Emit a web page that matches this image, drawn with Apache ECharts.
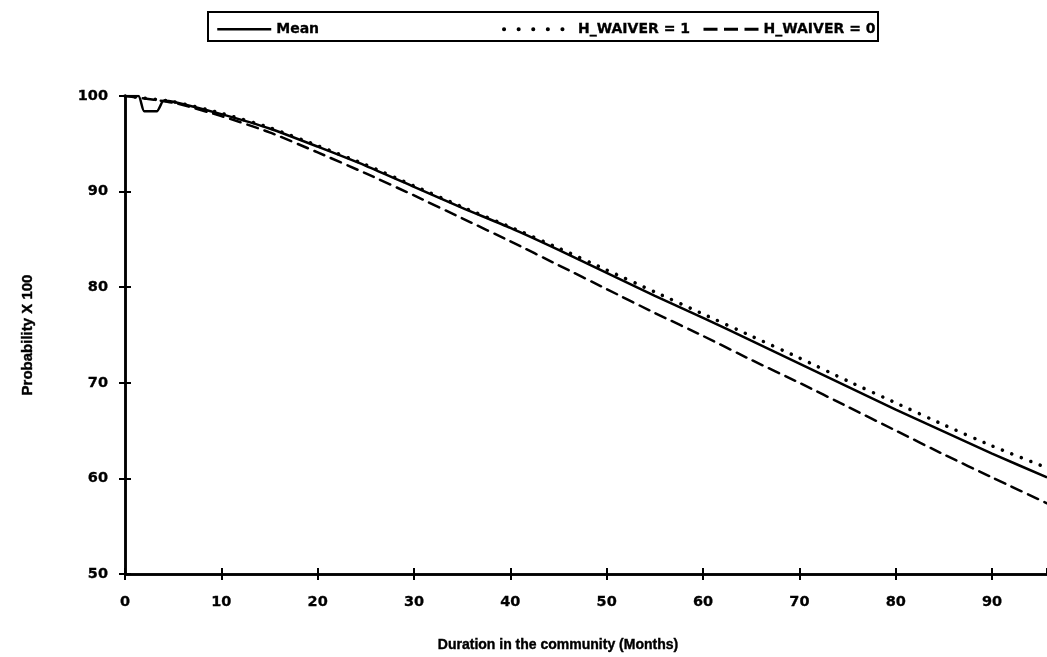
<!DOCTYPE html>
<html>
<head>
<meta charset="utf-8">
<script src="https://cdn.jsdelivr.net/npm/echarts@6/dist/echarts.min.js"></script>
<style>
html,body{margin:0;padding:0;background:#fff;}
#c{width:1047px;height:657px;}
</style>
</head>
<body>
<div id="c"></div>
<script>
// Data
var meanMonths = [0, 1.4, 2, 3.3, 4, 5, 10, 15, 20, 25, 30, 35, 40, 45, 50, 55, 60, 65, 70, 75, 80, 85, 90, 95.7];
var meanVals   = [100, 100, 98.4, 98.4, 99.5, 99.4, 98.1, 96.6, 94.7, 92.7, 90.5, 88.3, 86.2, 83.9, 81.5, 79.1, 76.8, 74.4, 72.0, 69.6, 67.2, 64.9, 62.6, 60.1];
var months     = [0, 5, 10, 15, 20, 25, 30, 35, 40, 45, 50, 55, 60, 65, 70, 75, 80, 85, 90, 95.7];
var waiver1Vals = [100, 99.4, 98.2, 96.7, 94.8, 92.8, 90.6, 88.4, 86.3, 84.1, 81.8, 79.5, 77.2, 74.9, 72.6, 70.2, 67.9, 65.6, 63.4, 61.1];
var waiver0Vals = [100, 99.3, 97.9, 96.2, 94.1, 91.9, 89.6, 87.2, 84.8, 82.3, 79.8, 77.3, 74.9, 72.4, 70.0, 67.5, 65.0, 62.5, 60.1, 57.4];
var seriesNames = ['Mean', 'H_WAIVER = 1', 'H_WAIVER = 0'];
var xAxisTitle = 'Duration in the community (Months)';
var yAxisTitle = 'Probability X 100';

function pairs(xs, ys){ return xs.map(function(x,i){ return [x, ys[i]]; }); }

var font = 'Liberation Sans, Arial, sans-serif';
var wideFont = 'DejaVu Sans, sans-serif';
var chart = echarts.init(document.getElementById('c'), null, {renderer:'canvas'});

var axisCommonX = {
  type:'value', min:0, max:95.7, interval:10,
  axisLine:{show:true, lineStyle:{color:'#000', width:2.5}},
  splitLine:{show:false}
};
var axisCommonY = {
  type:'value', min:50, max:100, interval:10,
  axisLine:{show:true, lineStyle:{color:'#000', width:2.5}},
  splitLine:{show:false}
};
var labelStyle = {color:'#000', fontFamily:wideFont, fontWeight:'bold', fontSize:14.5, textBorderColor:'#000', textBorderWidth:0.3};

function legendAt(left, w, name, lineStyle){
  return {
    left:left, top:17, data:[name], itemWidth:w, itemHeight:8, selectedMode:false,
    itemStyle:{color:'rgba(0,0,0,0)', borderColor:'rgba(0,0,0,0)', borderWidth:0, opacity:0},
    lineStyle:lineStyle,
    textStyle:{color:'#000', fontFamily:wideFont, fontWeight:'bold', fontSize:14, textBorderColor:'#000', textBorderWidth:0.3}
  };
}

chart.setOption({
  animation:false,
  backgroundColor:'#fff',
  grid:{left:125, right:0, top:96, bottom:83, containLabel:false},
  legend:[
    legendAt(211, 54, seriesNames[0], {color:'#000', width:2.5, type:'solid'}),
    legendAt(497, 69, seriesNames[1], {color:'#000', width:4, type:[0.1, 14.5], cap:'round'}),
    legendAt(697, 55, seriesNames[2], {color:'#000', width:3, type:[14, 6.5], cap:'butt'})
  ],
  graphic:[
    {type:'rect', shape:{x:208, y:12, width:670, height:29}, style:{fill:'none', stroke:'#000', lineWidth:2}},
    {type:'text', x:558, y:645, style:{text:xAxisTitle, fill:'#000', font:'bold 14px ' + font, textAlign:'center', textVerticalAlign:'middle', stroke:'#000', lineWidth:0.4}},
    {type:'text', x:28, y:335, rotation:Math.PI/2, style:{text:yAxisTitle, fill:'#000', font:'bold 15px ' + font, textAlign:'center', textVerticalAlign:'middle', stroke:'#000', lineWidth:0.4}}
  ],
  xAxis:[
    Object.assign({}, axisCommonX, {
      position:'bottom',
      axisTick:{show:true, length:6, lineStyle:{color:'#000', width:2}},
      axisLabel:Object.assign({show:true, margin:21, showMaxLabel:false}, labelStyle)
    }),
    Object.assign({}, axisCommonX, {
      position:'bottom',
      axisTick:{show:true, inside:true, length:6, lineStyle:{color:'#000', width:2}},
      axisLabel:{show:false}
    })
  ],
  yAxis:[
    Object.assign({}, axisCommonY, {
      position:'left',
      axisTick:{show:true, length:6, lineStyle:{color:'#000', width:2}},
      axisLabel:Object.assign({show:true, margin:17}, labelStyle)
    }),
    Object.assign({}, axisCommonY, {
      position:'left',
      axisTick:{show:true, inside:true, length:6, lineStyle:{color:'#000', width:2}},
      axisLabel:{show:false}
    })
  ],
  series:[
    {name:seriesNames[0], type:'line', data:pairs(meanMonths, meanVals), symbol:'none', smooth:0.2,
     lineStyle:{color:'#000', width:2.5}, itemStyle:{color:'#000'}, z:3},
    {name:seriesNames[1], type:'line', data:pairs(months, waiver1Vals), symbol:'none', smooth:0.2,
     lineStyle:{color:'#000', width:3.5, type:[0.1, 10], cap:'round'}, itemStyle:{color:'#000'}, z:2},
    {name:seriesNames[2], type:'line', data:pairs(months, waiver0Vals), symbol:'none', smooth:0.2,
     lineStyle:{color:'#000', width:2.5, type:[11, 7], cap:'round'}, itemStyle:{color:'#000'}, z:2}
  ]
});
</script>
</body>
</html>
